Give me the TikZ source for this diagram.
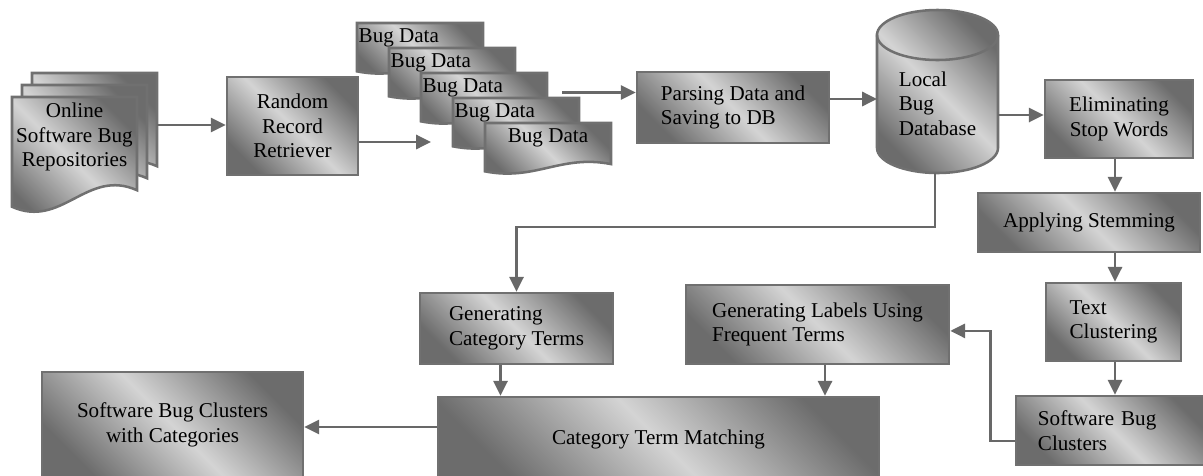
\documentclass[tikz,border=0pt]{standalone}
\usepackage{fontspec}
\setmainfont{Liberation Serif}
\usepackage{xcolor}
\definecolor{shdark}{RGB}{108,108,108}
\definecolor{shlight}{RGB}{212,212,212}
\definecolor{edgegray}{RGB}{112,112,112}
\definecolor{arrowgray}{RGB}{104,104,104}
\usepackage{tikz}
\usetikzlibrary{arrows.meta, calc}

% sheet with a wavy lower edge: x, y (top left), width, height
\newcommand{\docsheet}[4]{%
  \path[docfill] (#1,#2) -- (#1+#3,#2) -- (#1+#3,#2+0.79*#4)
    .. controls (#1+0.6*#3,#2+0.6*#4) and (#1+0.4*#3,#2+1.12*#4) .. (#1,#2+0.93*#4) -- cycle;}

\begin{document}
\begin{tikzpicture}[x=0.025cm, y=-0.025cm,
    every node/.style={font=\fontsize{15}{17.4}\selectfont},
    bugbox/.style={draw=edgegray, line width=1.8pt, left color=shdark, right color=shdark,
      middle color=shlight, shading angle=-45},
    docfill/.style={bugbox},
    flowarrow/.style={draw=arrowgray, line width=1.8pt, -{Triangle[length=10.5pt, width=10pt]}}]
  \useasboundingbox (0,0) rectangle (1203,475);

  % repositories
  \docsheet{32}{73}{125}{118}
  \docsheet{22}{85}{125}{118}
  \docsheet{12}{97}{125}{118}
  \node[align=center] (repo) at (74.5,137) {Online\\Software Bug\\Repositories};
  \coordinate (repoout) at (157,125);

  % retrieved records
  \foreach \i in {0,...,3} {
    \docsheet{357+32*\i}{23+25*\i}{126}{52}
    \node[anchor=west, inner sep=1pt] (bd\i) at (357+32*\i,38+25*\i) {Bug Data};
  }
  \docsheet{485}{123}{126}{52}
  \node (bd4) at (548,138) {Bug Data};
  \coordinate (docsin) at (431,142);
  \coordinate (docsout) at (562,92.5);

  % local database
  \path[bugbox] (877,35) -- (877,148) arc (180:0:60.5 and 25) -- (998,35)
    arc (0:-180:60.5 and 25) -- cycle;
  \draw[edgegray, line width=1.8pt] (877,35) arc (180:0:60.5 and 25);
  \node[align=left] (db) at (937.5,103.5) {Local\\Bug\\Database};
  \coordinate (dbwest) at (877,99);
  \coordinate (dbeast) at (998,115);
  \coordinate (dbbottom) at (935,173);

  \node[bugbox, minimum width=3.275cm, minimum height=2.45cm, align=center] (rrr) at (292.5,126) {Random\\Record\\Retriever};
  \node[bugbox, minimum width=4.8cm, minimum height=1.775cm, align=left] (parse) at (733,107.5) {Parsing Data and\\Saving to DB};
  \node[bugbox, minimum width=3.7cm, minimum height=1.95cm, align=center] (elim) at (1119,119) {Eliminating\\Stop Words};
  \node[bugbox, minimum width=5.55cm, minimum height=1.475cm] (stem) at (1089,222.5) {Applying Stemming};
  \node[bugbox, minimum width=3.375cm, minimum height=1.95cm, align=left] (tclu) at (1113.5,322) {Text\\Clustering};
  \node[bugbox, minimum width=4.85cm, minimum height=1.725cm, text width=3.75cm, inner xsep=0.55cm, align=left] (sbc) at (1113,430.5) {Software Bug\\Clusters};
  \node[bugbox, minimum width=6.575cm, minimum height=1.975cm, align=left] (glab) at (817.5,324.5) {Generating Labels Using\\Frequent Terms};
  \node[bugbox, minimum width=4.825cm, minimum height=1.775cm, align=left] (gcat) at (516.5,328.5) {Generating\\Category Terms};
  \node[bugbox, minimum width=11.025cm, minimum height=2.1cm] (ctm) at (658.5,439) {Category Term Matching};
  \node[bugbox, minimum width=6.525cm, minimum height=2.65cm, align=center] (sbcc) at (172.5,425) {Software Bug Clusters\\with Categories};
  \coordinate (spine) at (1115,0);

  % connectors
  \draw[flowarrow] (repoout) -- (rrr.west |- repoout);
  \draw[flowarrow] (rrr.east |- docsin) -- (docsin);
  \draw[flowarrow] (docsout) -- (parse.west |- docsout);
  \draw[flowarrow] (parse.east |- dbwest) -- (dbwest);
  \draw[flowarrow] (dbeast) -- (elim.west |- dbeast);
  \draw[flowarrow] (elim.south -| spine) -- (stem.north -| spine);
  \draw[flowarrow] (stem.south -| spine) -- (tclu.north -| spine);
  \draw[flowarrow] (tclu.south -| spine) -- (sbc.north -| spine);
  \draw[flowarrow] ([yshift=-0.26cm]sbc.west) -- ++(-24,0) |- ([yshift=-0.16cm]glab.east);
  \draw[flowarrow] (dbbottom) -- ++(0,54) -| (gcat.north);
  \draw[flowarrow] ($(gcat.south)+(-16,0)$) -- ($(ctm.north -| gcat.south)+(-16,0)$);
  \draw[flowarrow] ($(glab.south)+(7.5,0)$) -- ($(ctm.north -| glab.south)+(7.5,0)$);
  \draw[flowarrow] ($(ctm.west)+(0,-12)$) -- ($(sbcc.east |- ctm.west)+(0,-12)$);
\end{tikzpicture}
\end{document}
